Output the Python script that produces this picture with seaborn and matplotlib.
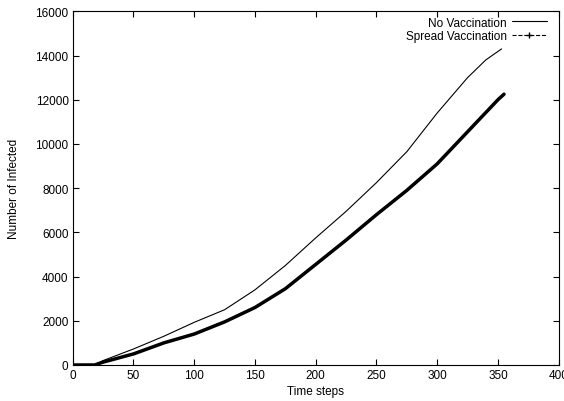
import seaborn as sns
import pandas as pd
import matplotlib
matplotlib.use('Agg')
import matplotlib.pyplot as plt
from matplotlib.lines import Line2D

# values
steps_none = [0, 10, 18, 25, 50, 75, 100, 125, 150, 175, 200, 225, 250, 275, 300, 325, 340, 353]
infected_none = [0, 0, 0, 200, 724, 1300, 1930, 2500, 3400, 4500, 5750, 6950, 8250, 9650, 11400, 13000, 13800, 14300]

steps_spread = [0, 5, 10, 15, 18, 25, 50, 75, 100, 125, 150, 175, 200, 225, 250, 275, 300, 325, 350, 355]
infected_spread = [0, 0, 0, 0, 0, 130, 500, 1000, 1400, 1950, 2600, 3450, 4550, 5650, 6800, 7900, 9100, 10550, 12000, 12250]

x_ticks = [0, 50, 100, 150, 200, 250, 300, 350, 400]
y_ticks = [0, 2000, 4000, 6000, 8000, 10000, 12000, 14000, 16000]

df_none = pd.DataFrame({'Time steps': steps_none, 'Infected': infected_none})
df_spread = pd.DataFrame({'Time steps': steps_spread, 'Infected': infected_spread})

sns.set_style('ticks')
plt.rcParams['font.family'] = ['Liberation Sans', 'DejaVu Sans']
plt.rcParams['font.size'] = 8.5
plt.rcParams['text.color'] = 'black'
plt.rcParams['axes.labelcolor'] = 'black'

fig = plt.figure(figsize=(5.64, 4.02), dpi=100)
ax = fig.add_axes([0.129, 0.0896, 0.8616, 0.8798])

sns.lineplot(data=df_none, x='Time steps', y='Infected', color='black', linewidth=0.8, ax=ax)
sns.lineplot(data=df_spread, x='Time steps', y='Infected', color='black', linewidth=2.5, ax=ax)

ax.set_xlim(0, 400)
ax.set_ylim(0, 16000)
ax.set_xticks(x_ticks)
ax.set_yticks(y_ticks)
ax.set_xlabel('Time steps', fontsize=8.5, labelpad=3)
ax.set_ylabel('Number of Infected', fontsize=8.5, labelpad=11)
ax.tick_params(direction='in', length=4, width=0.8, top=True, right=True, labelsize=8.5,
               colors='black', pad=3)
for s in ax.spines.values():
    s.set_visible(True)
    s.set_linewidth(0.8)
    s.set_color('black')

handles = [Line2D([], [], color='black', linewidth=0.8),
           Line2D([], [], color='black', linewidth=0.8, linestyle='--', marker='+', markersize=5)]
ax.legend(handles, ['No Vaccination', 'Spread Vaccination'], loc='upper right',
          bbox_to_anchor=(0.975, 0.985), frameon=False, markerfirst=False, fontsize=8.5,
          handlelength=2.9, handletextpad=0.45, borderpad=0, labelspacing=0.1, borderaxespad=0)

fig.savefig('out.png', dpi=100)
